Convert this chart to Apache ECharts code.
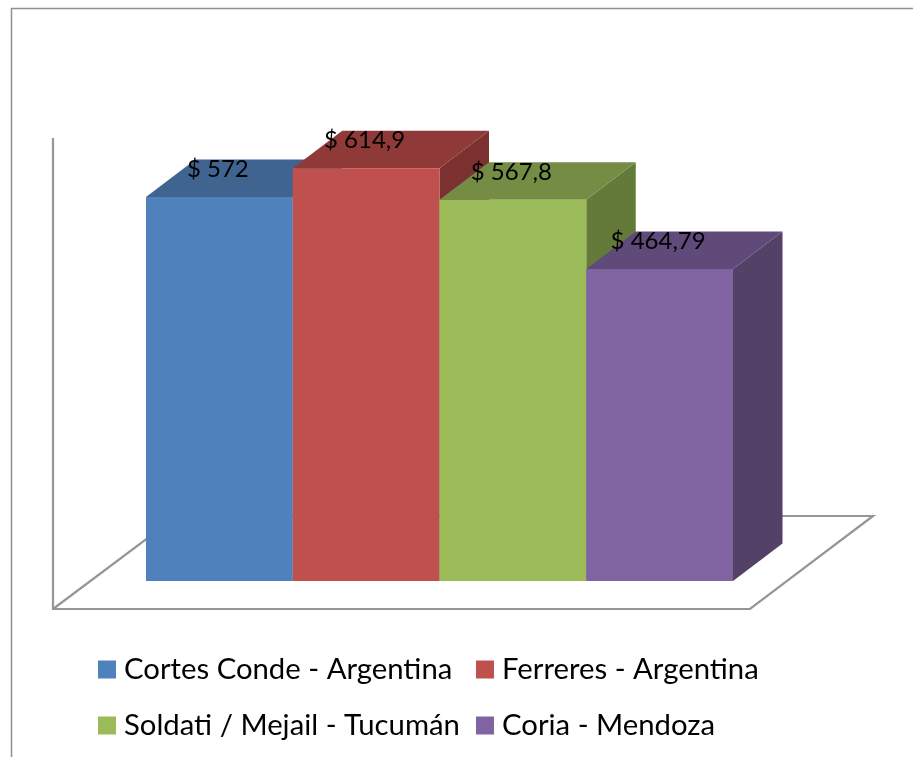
<!DOCTYPE html>
<html>
<head>
<meta charset="utf-8">
<style>html,body{margin:0;padding:0;background:#fff}#c{width:913px;height:757px}</style>
<script src="https://cdn.jsdelivr.net/npm/echarts@6/dist/echarts.min.js"></script>
</head>
<body>
<div id="c"></div>
<script>
const categories = ['Cortes Conde - Argentina', 'Ferreres - Argentina', 'Soldati / Mejail - Tucumán', 'Coria - Mendoza'];
const values = [572, 614.9, 567.8, 464.79];
const valueLabels = ['$ 572', '$ 614,9', '$ 567,8', '$ 464,79'];
const frontColors = ['#4F81BD', '#C0504D', '#9BBB59', '#8064A2'];
const topColors = ['#3F648F', '#8F3A38', '#748C43', '#604A7A'];
const sideColors = ['#35547A', '#7B3130', '#647A39', '#534168'];
const depthX = 49.5, depthY = 37.5;
const fontName = 'Lato, "Open Sans", sans-serif';

const chart = echarts.init(document.getElementById('c'), null, {renderer: 'canvas'});

function renderBar(params, api) {
  const i = api.value(0), v = api.value(1);
  const top = api.coord([i, v]), base = api.coord([i, 0]);
  const w = api.size([1, 0])[0];
  const x0 = top[0] - w / 2, x1 = top[0] + w / 2, y0 = top[1], y1 = base[1];
  return {type: 'group', children: [
    {type: 'polygon', shape: {points: [[x1, y0], [x1 + depthX, y0 - depthY], [x1 + depthX, y1 - depthY], [x1, y1]]},
      style: {fill: sideColors[i]}},
    {type: 'polygon', shape: {points: [[x0, y0], [x1, y0], [x1 + depthX, y0 - depthY], [x0 + depthX, y0 - depthY]]},
      style: {fill: topColors[i]}},
    {type: 'rect', shape: {x: x0, y: y0, width: x1 - x0, height: y1 - y0},
      style: {fill: frontColors[i]}}
  ]};
}

function renderLabel(params, api) {
  const i = api.value(0), v = api.value(1);
  const top = api.coord([i, v]);
  return {type: 'text', z2: 100, style: {
    x: top[0] - 1.5, y: top[1] - 27.5, text: valueLabels[i],
    align: 'center', verticalAlign: 'middle',
    font: '24px ' + fontName, fill: '#000'
  }};
}

const barSeries = categories.map((name, i) => ({
  name, type: 'custom', renderItem: renderBar, z: 2 + i,
  itemStyle: {color: frontColors[i]},
  encode: {x: 0, y: 1},
  data: [[i, values[i]]],
  silent: true, animation: false
}));
const labelSeries = {
  type: 'custom', renderItem: renderLabel, z: 20, silent: true, animation: false,
  encode: {x: 0, y: 1},
  data: categories.map((c, i) => [i, values[i]])
};

const legendCommon = {
  orient: 'vertical', icon: 'rect', itemWidth: 18, itemHeight: 18, itemGap: 27,
  selectedMode: false, padding: 0,
  textStyle: {fontFamily: fontName, fontSize: 29.3, color: '#000', lineHeight: 18, padding: [0, 0, 0, 3]}
};

chart.setOption({
  animation: false,
  backgroundColor: '#fff',
  grid: {left: 146, width: 587, top: 111, height: 470},
  xAxis: {type: 'category', data: categories, show: false},
  yAxis: {type: 'value', min: 0, max: 700, interval: 100, show: false},
  legend: [
    Object.assign({left: 98, top: 655, data: [categories[0], categories[2]]}, legendCommon),
    Object.assign({left: 476, top: 655, data: [categories[1], categories[3]]}, legendCommon)
  ],
  graphic: [
    {type: 'polyline', silent: true, shape: {points: [[11.5, 757], [11.5, 8.5], [913, 8.5]]},
      style: {fill: 'none', stroke: '#8f8f8f', lineWidth: 1.5}},
    {type: 'polyline', silent: true, shape: {points: [[53, 138], [53, 609], [750, 609], [873, 516], [177, 516], [53, 609]]},
      style: {fill: 'none', stroke: '#969696', lineWidth: 2.2}}
  ],
  series: barSeries.concat([labelSeries])
});
</script>
</body>
</html>
